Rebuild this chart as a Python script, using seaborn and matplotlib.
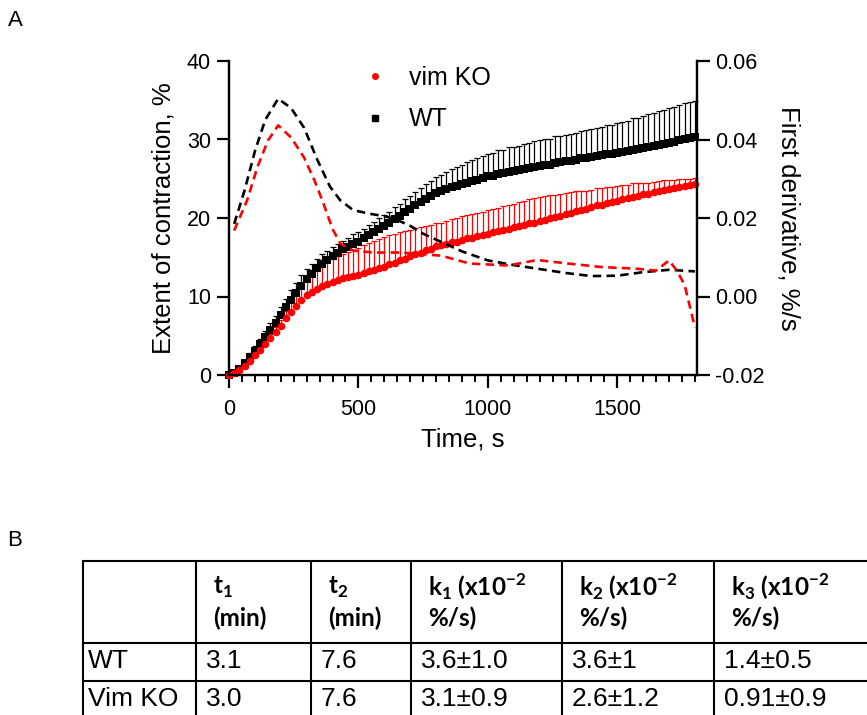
import numpy as np
import pandas as pd
import seaborn as sns
import matplotlib.pyplot as plt
from matplotlib.lines import Line2D
from matplotlib.ticker import MultipleLocator, FormatStrFormatter

# ---------------- data ----------------
# extent of contraction (%), sampled every 20 s from 0 to 1800 s
time_s = list(range(0, 1801, 20))

wt_mean = [0.0, 0.3, 0.8, 1.5, 2.3, 3.1, 3.9, 4.8, 5.7, 6.6,
           7.6, 8.6, 9.6, 10.5, 11.4, 12.2, 12.9, 13.6, 14.2, 14.7,
           15.2, 15.6, 16.0, 16.3, 16.7, 17.0, 17.4, 17.8, 18.2, 18.6,
           19.0, 19.4, 19.9, 20.3, 20.8, 21.2, 21.6, 22.0, 22.4, 22.8,
           23.2, 23.4, 23.7, 23.9, 24.1, 24.3, 24.5, 24.7, 24.9, 25.1,
           25.3, 25.4, 25.6, 25.7, 25.9, 26.0, 26.1, 26.2, 26.4, 26.5,
           26.6, 26.7, 26.8, 27.0, 27.1, 27.2, 27.3, 27.4, 27.6, 27.7,
           27.8, 27.9, 28.0, 28.1, 28.2, 28.3, 28.4, 28.5, 28.7, 28.8,
           28.9, 29.0, 29.2, 29.3, 29.4, 29.6, 29.7, 29.9, 30.0, 30.2,
           30.3]
wt_err = [0.0, 0.1, 0.2, 0.3, 0.5, 0.6, 0.7, 0.8, 0.9, 0.9,
          1.0, 1.1, 1.2, 1.2, 1.3, 1.3, 1.3, 1.2, 1.2, 1.1,
          1.1, 1.1, 1.1, 1.2, 1.2, 1.2, 1.2, 1.3, 1.3, 1.4,
          1.4, 1.4, 1.5, 1.5, 1.6, 1.6, 1.7, 1.8, 1.9, 1.9,
          2.0, 2.1, 2.2, 2.3, 2.4, 2.5, 2.6, 2.7, 2.8, 2.8,
          2.9, 2.9, 3.0, 3.0, 3.1, 3.1, 3.1, 3.2, 3.2, 3.3,
          3.3, 3.3, 3.3, 3.4, 3.4, 3.4, 3.4, 3.4, 3.5, 3.5,
          3.5, 3.6, 3.6, 3.7, 3.7, 3.8, 3.8, 3.9, 4.0, 4.0,
          4.1, 4.2, 4.2, 4.3, 4.4, 4.4, 4.5, 4.5, 4.6, 4.6,
          4.6]
ko_mean = [0.0, 0.2, 0.6, 1.1, 1.8, 2.5, 3.2, 3.9, 4.7, 5.5,
           6.3, 7.2, 8.0, 8.8, 9.5, 10.2, 10.6, 11.0, 11.3, 11.6,
           11.9, 12.1, 12.3, 12.5, 12.6, 12.8, 13.0, 13.2, 13.4, 13.6,
           13.8, 14.1, 14.3, 14.6, 14.8, 15.1, 15.4, 15.6, 15.9, 16.1,
           16.4, 16.5, 16.7, 16.9, 17.0, 17.2, 17.4, 17.5, 17.7, 17.8,
           18.0, 18.2, 18.3, 18.5, 18.6, 18.8, 19.0, 19.1, 19.3, 19.4,
           19.6, 19.8, 20.0, 20.1, 20.3, 20.5, 20.7, 20.9, 21.0, 21.2,
           21.4, 21.6, 21.7, 21.9, 22.0, 22.2, 22.4, 22.5, 22.7, 22.8,
           23.0, 23.1, 23.3, 23.4, 23.6, 23.7, 23.8, 24.0, 24.1, 24.2,
           24.3]
ko_err = [0.0, 0.0, 0.1, 0.1, 0.2, 0.3, 0.4, 0.5, 0.5, 0.6,
          0.7, 1.0, 1.3, 1.6, 1.9, 2.1, 2.3, 2.4, 2.6, 2.8,
          2.9, 3.0, 3.1, 3.2, 3.3, 3.4, 3.5, 3.6, 3.7, 3.7,
          3.8, 3.7, 3.6, 3.6, 3.5, 3.4, 3.3, 3.2, 3.1, 3.0,
          2.9, 2.9, 2.9, 3.0, 3.0, 3.0, 3.0, 3.0, 3.0, 3.0,
          3.0, 3.0, 3.0, 3.0, 3.0, 3.0, 3.0, 3.1, 3.1, 3.1,
          3.1, 3.0, 2.9, 2.8, 2.8, 2.7, 2.6, 2.5, 2.4, 2.3,
          2.2, 2.2, 2.1, 2.0, 2.0, 1.9, 1.8, 1.7, 1.7, 1.6,
          1.5, 1.4, 1.3, 1.3, 1.2, 1.1, 1.0, 1.0, 0.9, 0.8,
          0.8]

# first derivative (%/s)
wt_deriv_t = [20, 60, 100, 140, 190, 240, 290, 340, 390, 430, 480, 550, 600,
              650, 700, 750, 800, 900, 1000, 1100, 1200, 1300, 1400, 1500,
              1600, 1700, 1800]
wt_deriv = [0.0185, 0.027, 0.037, 0.045, 0.0504, 0.048, 0.043, 0.035, 0.028,
            0.0245, 0.022, 0.021, 0.0205, 0.0195, 0.018, 0.016, 0.0145,
            0.0115, 0.0092, 0.008, 0.007, 0.006, 0.0052, 0.0053, 0.0062,
            0.0068, 0.0064]
ko_deriv_t = [20, 70, 110, 150, 190, 240, 290, 330, 365, 400, 430, 480, 560,
              660, 820, 930, 1080, 1190, 1310, 1440, 1570, 1650, 1700, 1730,
              1760, 1800]
ko_deriv = [0.0168, 0.0245, 0.033, 0.0397, 0.0436, 0.0405, 0.0354, 0.0296,
            0.0237, 0.0172, 0.0135, 0.0117, 0.0112, 0.0112, 0.0104, 0.0084,
            0.0079, 0.0093, 0.0084, 0.0075, 0.0071, 0.0066, 0.0092, 0.0066,
            0.003, -0.0079]

# table (panel B)
table_header = [("", ""), ("t$_\\mathbf{1}$", "(min)"), ("t$_\\mathbf{2}$", "(min)"),
                ("k$_\\mathbf{1}$ (x10$^\\mathbf{-2}$", "%/s)"),
                ("k$_\\mathbf{2}$ (x10$^\\mathbf{-2}$", "%/s)"),
                ("k$_\\mathbf{3}$ (x10$^\\mathbf{-2}$", "%/s)")]
table_rows = [["WT", "3.1", "7.6", "3.6±1.0", "3.6±1", "1.4±0.5"],
              ["Vim KO", "3.0", "7.6", "3.1±0.9", "2.6±1.2", "0.91±0.9"]]


def main():
    sns.set_theme(style="ticks")
    plt.rcParams["font.family"] = ["Liberation Sans", "DejaVu Sans"]
    plt.rcParams["axes.unicode_minus"] = False
    plt.rcParams["mathtext.fontset"] = "custom"
    plt.rcParams["mathtext.rm"] = "Lato"
    plt.rcParams["mathtext.bf"] = "Lato:bold"
    for key in ["text.color", "axes.labelcolor", "xtick.color", "ytick.color",
                "axes.edgecolor"]:
        plt.rcParams[key] = "black"

    W, H = 867, 715
    fig = plt.figure(figsize=(W / 100, H / 100), dpi=100)
    ax = fig.add_axes([229 / W, 1 - 375 / H, (697 - 229) / W, (375 - 61) / H])
    ax2 = ax.twinx()

    curves = pd.DataFrame({"t": time_s, "wt": wt_mean, "wt_err": wt_err,
                           "ko": ko_mean, "ko_err": ko_err})

    for key, color, marker in [("wt", "black", "s"), ("ko", "#ff0000", "o")]:
        ax.errorbar(curves["t"], curves[key],
                    yerr=[np.zeros(len(curves)), curves[key + "_err"]],
                    fmt="none", ecolor=color, elinewidth=0.9, capsize=2.2,
                    capthick=0.9, clip_on=False, zorder=2)
        sns.scatterplot(data=curves, x="t", y=key, ax=ax, color=color,
                        marker=marker, s=30, linewidth=0, clip_on=False,
                        zorder=3, legend=False)

    sns.lineplot(x=wt_deriv_t, y=wt_deriv, ax=ax2, color="black", lw=1.9,
                 linestyle=(0, (3.2, 2.0)), clip_on=False)
    sns.lineplot(x=ko_deriv_t, y=ko_deriv, ax=ax2, color="#ff0000", lw=1.9,
                 linestyle=(0, (3.2, 2.0)), clip_on=False)

    # axes styling
    ax.set_xlim(0, 1808)
    ax.set_ylim(0, 40)
    ax2.set_ylim(-0.02, 0.06)
    ax.xaxis.set_major_locator(MultipleLocator(500))
    ax.xaxis.set_minor_locator(MultipleLocator(50))
    ax.yaxis.set_major_locator(MultipleLocator(10))
    ax2.yaxis.set_major_locator(MultipleLocator(0.02))
    ax2.yaxis.set_major_formatter(FormatStrFormatter("%.2f"))

    for a in (ax, ax2):
        a.spines["top"].set_visible(False)
        for s in a.spines.values():
            s.set_linewidth(1.6)
        a.tick_params(axis="both", which="major", length=9, width=1.6,
                      labelsize=15.5, color="black", labelcolor="black", pad=4)
        a.tick_params(axis="x", which="minor", length=5, width=1.4)
        a.set_xlabel("")
        a.set_ylabel("")
    ax.tick_params(axis="x", which="major", pad=8)

    ax.set_xlabel("Time, s", fontsize=18.5, labelpad=6)
    ax.set_ylabel("Extent of contraction, %", fontsize=18.5, labelpad=8)
    ax2.set_ylabel("First derivative, %/s", fontsize=18.5, rotation=270,
                   labelpad=26)

    handles = [Line2D([], [], ls="none", marker="o", color="#ff0000", ms=4),
               Line2D([], [], ls="none", marker="s", color="black", ms=4)]
    ax.legend(handles, ["vim KO", "WT"], loc="upper left", frameon=False,
              bbox_to_anchor=(360 / W, 1 - 66 / H),
              bbox_transform=fig.transFigure, fontsize=18, handlelength=1.2,
              handletextpad=0.75, labelspacing=0.7, borderpad=0,
              borderaxespad=0)

    fig.text(15 / W, 1 - 20 / H, "A", fontsize=16, ha="center", va="center")
    fig.text(15 / W, 1 - 540 / H, "B", fontsize=16, ha="center", va="center")

    # ---------------- table (panel B) ----------------
    tab = fig.add_axes([0, 0, 1, 1], zorder=-1)
    tab.set_xlim(0, W)
    tab.set_ylim(H, 0)
    tab.axis("off")
    col_edges = [83, 196, 311, 411, 562, 714, 880]
    row_edges = [561, 643, 681, 720]
    for x in col_edges:
        tab.plot([x, x], [row_edges[0], row_edges[-1]], color="black", lw=1.5)
    for y in row_edges:
        tab.plot([col_edges[0], col_edges[-1]], [y, y], color="black", lw=1.5)

    for i, (top, bottom) in enumerate(table_header):
        x0 = col_edges[i] + 17
        tab.text(x0, 587, top, fontsize=17.5, fontweight="bold",
                 family="Lato", ha="left", va="center")
        tab.text(x0, 618, bottom, fontsize=17.5, fontweight="bold",
                 family="Lato", ha="left", va="center")
    for row, yc in zip(table_rows, [661, 699]):
        for i, val in enumerate(row):
            pad = 5 if i == 0 else 10
            tab.text(col_edges[i] + pad, yc, val, fontsize=19, ha="left",
                     va="center")

    fig.savefig("out.png", dpi=100)


if __name__ == "__main__":
    main()
